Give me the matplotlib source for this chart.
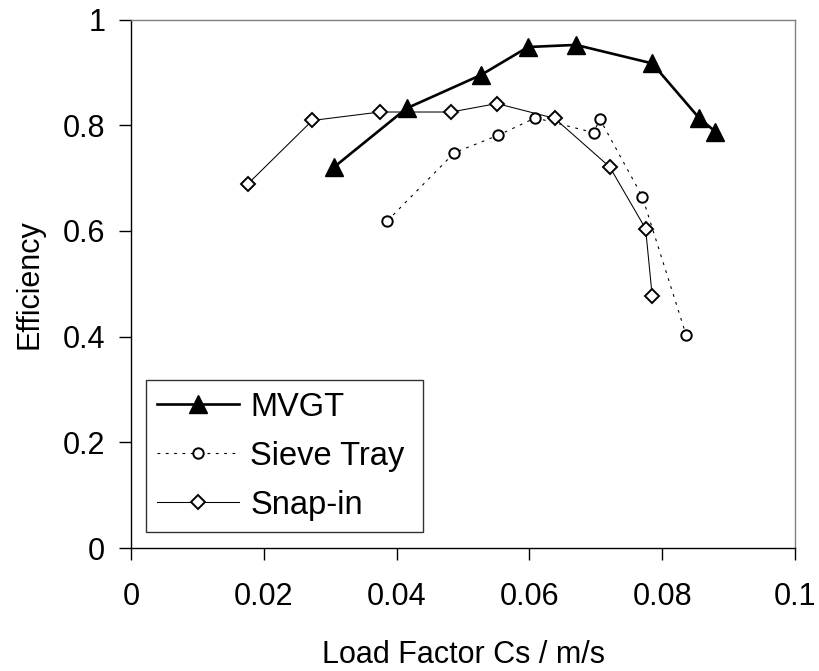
import matplotlib
matplotlib.use("Agg")
import matplotlib.pyplot as plt

plt.rcParams['font.family'] = ['Liberation Sans', 'DejaVu Sans']

# Load factor Cs (m/s) vs tray efficiency
mvgt_cs = [0.0306, 0.0415, 0.0527, 0.0598, 0.0670, 0.0785, 0.0856, 0.0880]
mvgt_eff = [0.721, 0.832, 0.895, 0.948, 0.952, 0.917, 0.813, 0.788]

sieve_cs = [0.0386, 0.0487, 0.0553, 0.0609, 0.0697, 0.0706, 0.0770, 0.0836]
sieve_eff = [0.619, 0.748, 0.781, 0.814, 0.786, 0.812, 0.665, 0.403]

snap_cs = [0.0176, 0.0273, 0.0375, 0.0482, 0.0551, 0.0638, 0.0721, 0.0775, 0.0785]
snap_eff = [0.689, 0.809, 0.825, 0.825, 0.841, 0.813, 0.721, 0.604, 0.476]

xticks = [0, 0.02, 0.04, 0.06, 0.08, 0.1]
xtick_labels = ["0", "0.02", "0.04", "0.06", "0.08", "0.1"]
yticks = [0, 0.2, 0.4, 0.6, 0.8, 1.0]
ytick_labels = ["0", "0.2", "0.4", "0.6", "0.8", "1"]

fig = plt.figure(figsize=(8.19, 6.71), dpi=100)
ax = fig.add_axes([0.16, 0.1833, 0.8107, 0.7876])

ax.plot(mvgt_cs, mvgt_eff, color='black', linewidth=1.9, marker='^',
        markersize=13, markerfacecolor='black', label='MVGT')
ax.plot(sieve_cs, sieve_eff, color='black', linewidth=0.8, linestyle=(0, (2.5, 5)),
        marker='o', markersize=7.5, markerfacecolor='white', markeredgewidth=1.4,
        label='Sieve Tray')
ax.plot(snap_cs, snap_eff, color='black', linewidth=0.75, marker='D',
        markersize=7, markerfacecolor='white', markeredgewidth=1.4,
        label='Snap-in')

ax.set_xlim(0, 0.1)
ax.set_ylim(0, 1)
ax.set_xticks(xticks)
ax.set_xticklabels(xtick_labels)
ax.set_yticks(yticks)
ax.set_yticklabels(ytick_labels)
ax.tick_params(direction='out', length=8.5, width=1, labelsize=22)
ax.tick_params(axis='x', pad=16)
ax.tick_params(axis='y', pad=10)

for side in ['left', 'bottom']:
    ax.spines[side].set_color('black')
    ax.spines[side].set_linewidth(1)
for side in ['top', 'right']:
    ax.spines[side].set_color('#808080')
    ax.spines[side].set_linewidth(1)

ax.set_xlabel("Load Factor Cs / m/s", fontsize=22, labelpad=20)
ax.set_ylabel("Efficiency", fontsize=22, labelpad=13)

leg = ax.legend(loc='lower left', bbox_to_anchor=(0.0226, 0.030, 0.417, 0.288),
                mode='expand', fontsize=23.5, frameon=True, fancybox=False,
                handlelength=2.5, handletextpad=0.35, borderaxespad=0,
                labelspacing=0.55, borderpad=0.35)
leg.get_frame().set_edgecolor('black')
leg.get_frame().set_linewidth(1)

fig.savefig("out.png", dpi=100)
